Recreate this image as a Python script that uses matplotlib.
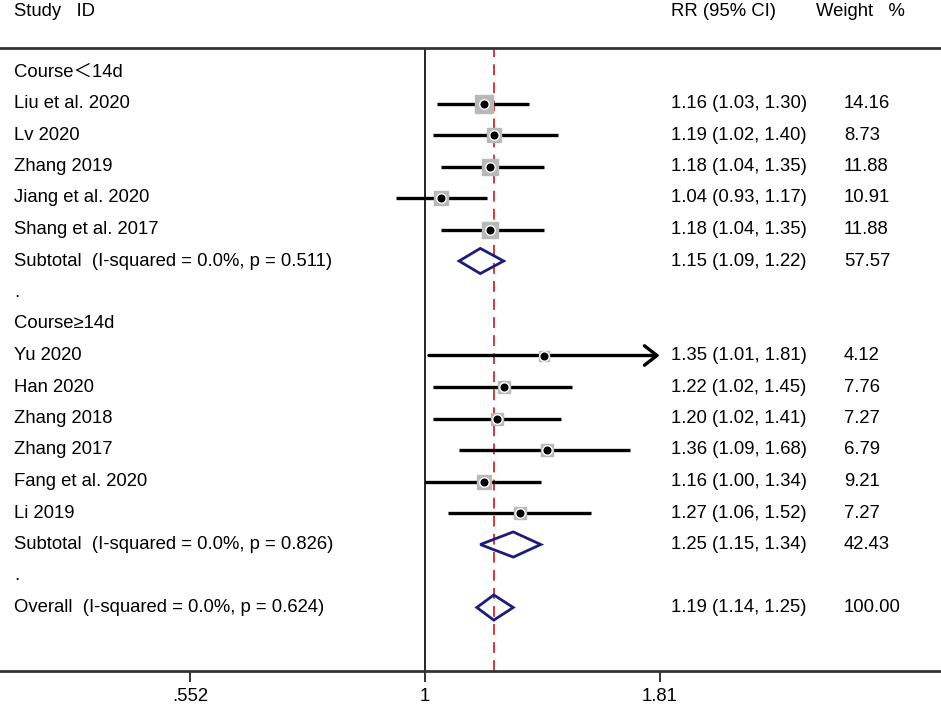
import numpy as np
import matplotlib
matplotlib.use("Agg")
import matplotlib.pyplot as plt
from matplotlib.patches import Polygon

# ---------------- data ----------------
group1_label = "Course\uff1c14d"
group1_names = ["Liu et al. 2020", "Lv 2020", "Zhang 2019", "Jiang et al. 2020", "Shang et al. 2017"]
group1_rr = [1.16, 1.19, 1.18, 1.04, 1.18]
group1_lo = [1.03, 1.02, 1.04, 0.93, 1.04]
group1_hi = [1.30, 1.40, 1.35, 1.17, 1.35]
group1_w = [14.16, 8.73, 11.88, 10.91, 11.88]
sub1_label = "Subtotal  (I-squared = 0.0%, p = 0.511)"
sub1 = (1.15, 1.09, 1.22, 57.57)

group2_label = "Course\u226514d"
group2_names = ["Yu 2020", "Han 2020", "Zhang 2018", "Zhang 2017", "Fang et al. 2020", "Li 2019"]
group2_rr = [1.35, 1.22, 1.20, 1.36, 1.16, 1.27]
group2_lo = [1.01, 1.02, 1.02, 1.09, 1.00, 1.06]
group2_hi = [1.81, 1.45, 1.41, 1.68, 1.34, 1.52]
group2_w = [4.12, 7.76, 7.27, 6.79, 9.21, 7.27]
sub2_label = "Subtotal  (I-squared = 0.0%, p = 0.826)"
sub2 = (1.25, 1.15, 1.34, 42.43)

overall_label = "Overall  (I-squared = 0.0%, p = 0.624)"
overall = (1.19, 1.14, 1.25, 100.00)

tick_vals = [0.552, 1, 1.81]
tick_labels = [".552", "1", "1.81"]

# ---------------- layout ----------------
W, H, DPI = 941, 708, 100
fig = plt.figure(figsize=(W / DPI, H / DPI), dpi=DPI)
FONT = ["Liberation Sans", "Noto Sans CJK SC", "DejaVu Sans"]
plt.rcParams["font.family"] = FONT
FS = 13.3

top_px, bot_px = 48, 671
ax = fig.add_axes([0, (H - bot_px) / H, 1, (bot_px - top_px) / H])
ax.set_xscale("log")
px_per_log = 395.5
x_one_px = 425
ax.set_xlim(np.exp(-x_one_px / px_per_log), np.exp((W - x_one_px) / px_per_log))
row0_px, row_h = 72, 31.5
ax.set_ylim((bot_px - row0_px) / row_h, (top_px - row0_px) / row_h)

for s in ["left", "right"]:
    ax.spines[s].set_visible(False)
for s in ["top", "bottom"]:
    ax.spines[s].set_linewidth(2.0)
    ax.spines[s].set_color("#333333")
ax.set_yticks([])
ax.set_xticks(tick_vals)
ax.set_xticklabels(tick_labels, fontsize=FS)
ax.minorticks_off()
ax.tick_params(axis="x", length=8, width=1.4, pad=4, color="#333333")

xt = 14 / W   # name column (axes fraction)
xrr = 671 / W
xw = 844 / W
tr = ax.get_yaxis_transform()  # x in axes fraction, y in data

# vertical null line and overall dashed line
ax.axvline(1, color="black", lw=1.2, zorder=1)
ax.axvline(overall[0], color="#d02a2a", lw=1.3, ls=(0, (6, 4)), zorder=1)

xmax_plot = tick_vals[-1]
box_k = 4.52 * 72 / DPI  # points per sqrt(weight)

def study(row, name, rr, lo, hi, w):
    ax.text(xt, row, name, transform=tr, va="center", ha="left", fontsize=FS)
    ax.text(xrr, row, f"{rr:.2f} ({lo:.2f}, {hi:.2f})", transform=tr, va="center", ha="left", fontsize=FS)
    ax.text(xw, row, f"{w:.2f}", transform=tr, va="center", ha="left", fontsize=FS)
    ax.plot([rr], [row], marker="s", ms=box_k * np.sqrt(w), color="#b8b8b8", mec="#b8b8b8", zorder=3)
    if hi >= xmax_plot:
        ax.annotate("", xy=(xmax_plot, row), xytext=(lo, row),
                    arrowprops=dict(arrowstyle="->,head_length=0.45,head_width=0.35",
                                    lw=2.4, color="black", shrinkA=0, shrinkB=0,
                                    mutation_scale=20), zorder=2)
    else:
        ax.plot([lo, hi], [row, row], color="black", lw=2.4, solid_capstyle="butt", zorder=2)
    ax.plot([rr], [row], marker="o", ms=6.8, color="black", mec="white", mew=1.0, zorder=4)

def diamond(row, name, vals):
    rr, lo, hi, w = vals
    ax.text(xt, row, name, transform=tr, va="center", ha="left", fontsize=FS)
    ax.text(xrr, row, f"{rr:.2f} ({lo:.2f}, {hi:.2f})", transform=tr, va="center", ha="left", fontsize=FS)
    ax.text(xw, row, f"{w:.2f}", transform=tr, va="center", ha="left", fontsize=FS)
    hh = 0.4
    poly = Polygon([[lo, row], [rr, row - hh], [hi, row], [rr, row + hh]], closed=True,
                   fill=False, edgecolor="#1c1c7a", lw=2.0, joinstyle="miter", zorder=3)
    ax.add_patch(poly)

def label(row, txt):
    ax.text(xt, row, txt, transform=tr, va="center", ha="left", fontsize=FS)

row = 0
label(row, group1_label)
for i in range(len(group1_names)):
    row += 1
    study(row, group1_names[i], group1_rr[i], group1_lo[i], group1_hi[i], group1_w[i])
row += 1
diamond(row, sub1_label, sub1)
row += 1
label(row, ".")
row += 1
label(row, group2_label)
for i in range(len(group2_names)):
    row += 1
    study(row, group2_names[i], group2_rr[i], group2_lo[i], group2_hi[i], group2_w[i])
row += 1
diamond(row, sub2_label, sub2)
row += 1
label(row, ".")
row += 1
diamond(row, overall_label, overall)

# header
hdr_row = (12 - row0_px) / row_h
ax.text(xt, hdr_row, "Study   ID", transform=tr, va="center", ha="left", fontsize=FS, clip_on=False)
ax.text(xrr, hdr_row, "RR (95% CI)", transform=tr, va="center", ha="left", fontsize=FS, clip_on=False)
ax.text(816 / W, hdr_row, "Weight   %", transform=tr, va="center", ha="left", fontsize=FS, clip_on=False)

fig.savefig("out.png", dpi=DPI)
